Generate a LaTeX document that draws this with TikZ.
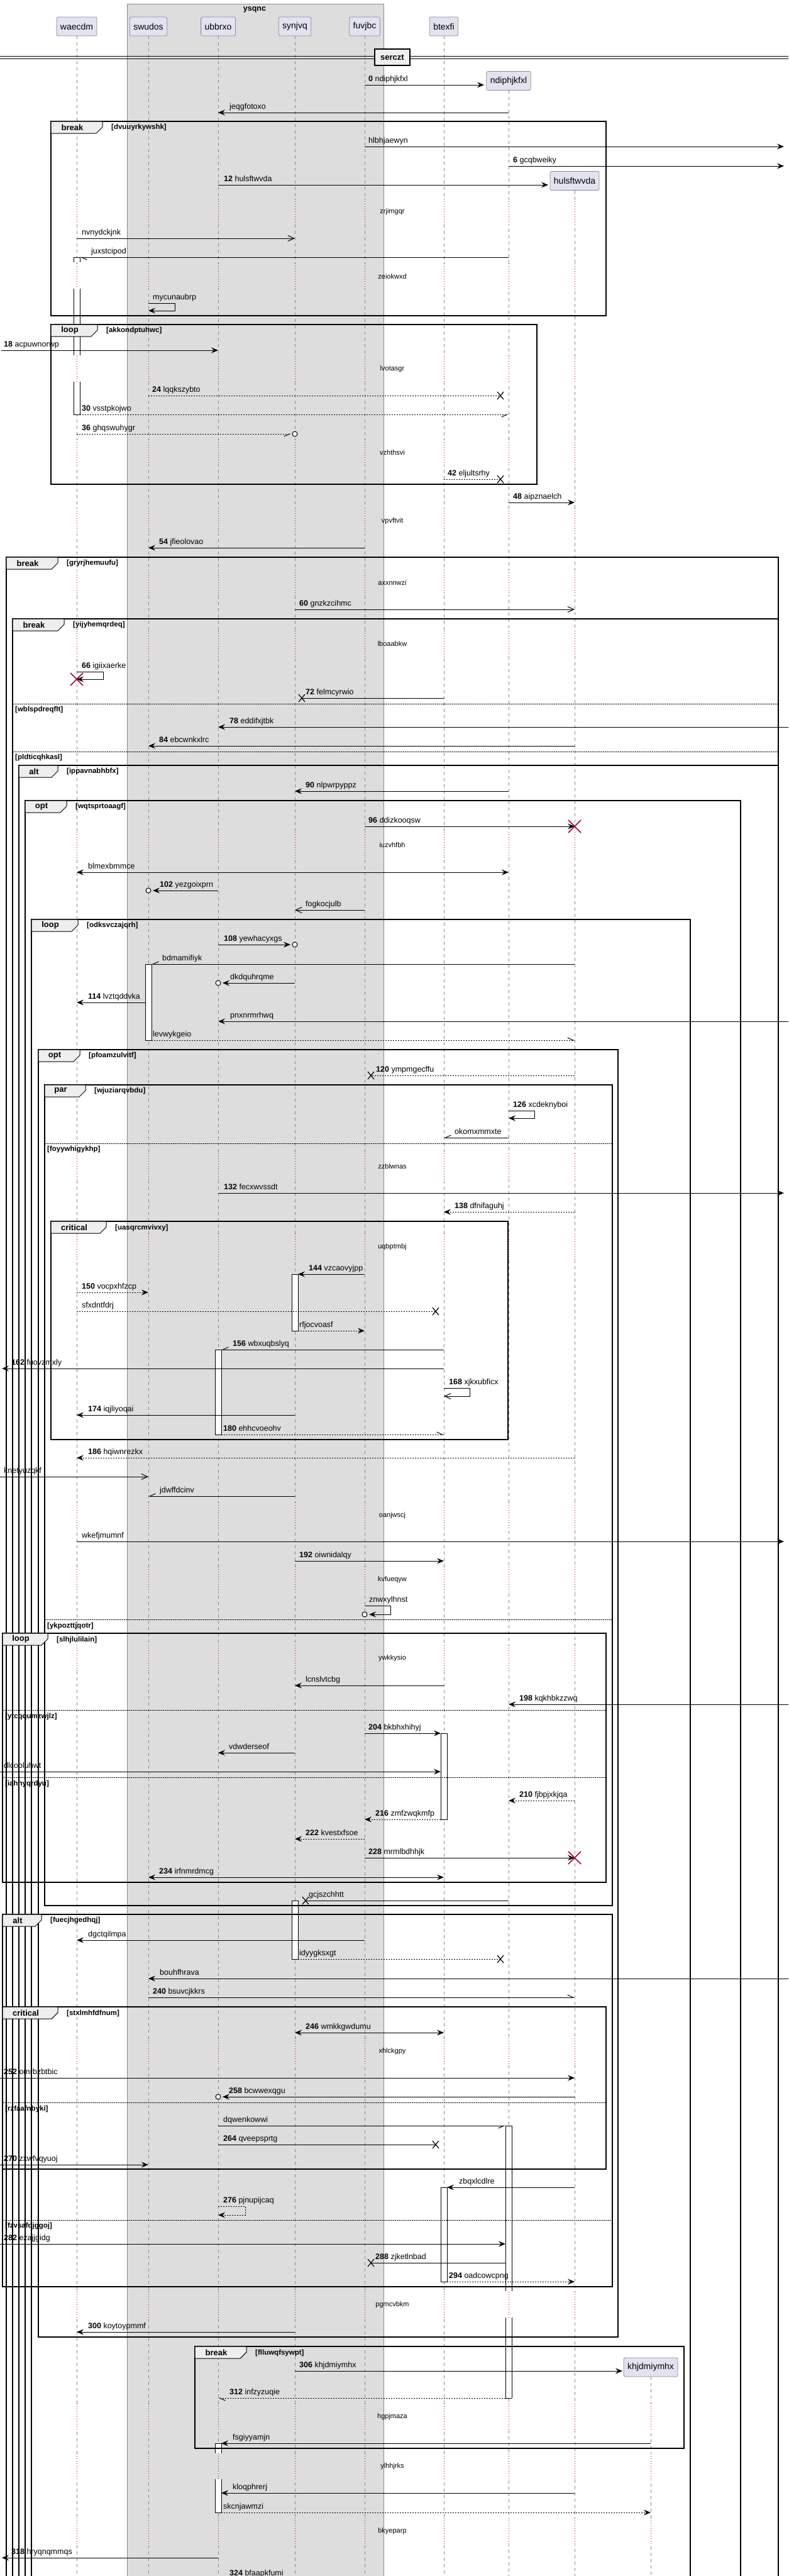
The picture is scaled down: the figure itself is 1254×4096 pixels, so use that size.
\documentclass[tikz,border=0pt]{standalone}
\usepackage{fontspec}
\setmainfont{Liberation Sans}
\usetikzlibrary{arrows.meta}

\definecolor{partfill}{HTML}{E2E2F0}
\definecolor{partline}{HTML}{8C8C8C}
\definecolor{boxfill}{HTML}{DDDDDD}
\definecolor{boxline}{HTML}{8A8A8A}
\definecolor{tabfill}{HTML}{EEEEEE}
\definecolor{killred}{HTML}{A80036}
\definecolor{lifegray}{HTML}{8A8A8A}

\tikzset{
  lifeline/.style={draw=lifegray, line width=0.7pt, dash pattern=on 5pt off 5pt},
  dotlife/.style={draw=killred, line width=0.9pt, dash pattern=on 1pt off 3pt},
  ptbox/.style={draw=partline, fill=partfill, rounded corners=2.5pt, line width=0.8pt,
    minimum height=30pt, inner xsep=6pt, inner ysep=0pt, font=\fontsize{14}{16}\selectfont},
  sqbox/.style={draw=boxline, fill=boxfill, line width=0.8pt},
  sqtitle/.style={inner sep=0pt, font=\bfseries\fontsize{12.5}{14}\selectfont},
  msgl/.style={line width=1pt, black},
  dots/.style={dash pattern=on 2pt off 2pt},
  fh/.style={-{Stealth[length=11pt,width=9pt,inset=4pt]}},
  bh/.style={{Stealth[length=11pt,width=9pt,inset=4pt]}-{Stealth[length=11pt,width=9pt,inset=4pt]}},
  oh/.style={-{Straight Barb[length=10pt,width=9pt]}},
  hl/.style={-{Straight Barb[harpoon,length=9pt,width=8pt]}},
  hr/.style={-{Straight Barb[harpoon,swap,length=9pt,width=8pt]}},
  mlbl/.style={anchor=base west, inner sep=0pt, yshift=6pt, font=\fontsize{12.5}{14}\selectfont},
  dlbl/.style={inner sep=0pt, font=\fontsize{11}{13}\selectfont},
  frm/.style={draw=black, line width=1.3pt},
  tabshape/.style={draw=black, fill=tabfill, line width=1pt},
  kwlbl/.style={inner sep=0pt, font=\bfseries\fontsize{13}{15}\selectfont},
  cndlbl/.style={anchor=west, inner sep=0pt, font=\bfseries\fontsize{11.5}{13}\selectfont},
  seprt/.style={draw=black, line width=0.8pt, dash pattern=on 1.5pt off 1.5pt},
  actl/.style={draw=black, line width=0.9pt},
  killx/.style={draw=killred, line width=1.6pt},
  lostx/.style={draw=black, line width=1.2pt},
  circo/.style={draw=black, line width=1pt, fill=white},
  divbox/.style={draw=black, fill=tabfill, line width=1.5pt, minimum width=56pt,
    minimum height=26pt, inner sep=0pt, font=\bfseries\fontsize{13}{15}\selectfont},
}

% message: name, from x, to x, y, style, label x, label
\newcommand\msg[7]{%
  \coordinate (#1a) at (#2,#4); \coordinate (#1b) at (#3,#4);
  \draw[msgl,#5] (#1a) -- (#1b);
  \node[mlbl] (#1t) at (#6,#4) {#7};}
% self message: name, x, y1, y2, x right, x end, style, label x, label
\newcommand\selfmsg[9]{%
  \coordinate (#1a) at (#2,#3); \coordinate (#1b) at (#6,#4);
  \draw[msgl,#7] (#1a) -- (#5,#3) -- (#5,#4) -- (#1b);
  \node[mlbl] (#1t) at (#8,#3) {#9};}
\newcommand\seqn[1]{\textbf{#1}\ }
% group frame: name, x1, y1, x2, y2, tab width, keyword, condition
\newcommand\grp[8]{%
  \draw[frm] (#2,#3) rectangle (#4,#5);
  \draw[tabshape] (#2,#3) -- ({#2+#6},#3) -- ({#2+#6},{#3+9}) -- ({#2+#6-10},{#3+19}) -- (#2,{#3+19}) -- cycle;
  \node[kwlbl] (#1k) at ({#2+#6/2-7},{#3+9.5}) {#7};
  \node[cndlbl] (#1c) at ({#2+#6+14},{#3+10}) {#8};}
\newcommand\sep[5]{%
  \draw[seprt] (#2,#4) -- (#3,#4);
  \node[cndlbl] (#1) at ({#2+4},{#4+10}) {#5};}
% delay: name, y, text, lifelines outside the box
\newcommand\delay[4]{%
  \foreach \lx in {236,347,469,580}{
    \draw[boxfill, line width=3pt] (\lx,#2-21) -- (\lx,#2+21);
    \draw[dotlife] (\lx,#2-21) -- (\lx,#2+21);}
  \foreach \lx in {#4}{
    \draw[white, line width=3pt] (\lx,#2-21) -- (\lx,#2+21);
    \draw[dotlife] (\lx,#2-21) -- (\lx,#2+21);}
  \node[dlbl] (#1) at (624,#2) {#3};}
% activation: x, y1, y2, caps (0 none, 1 top, 2 bottom, 3 both)
\newcommand\actv[4]{%
  \fill[white] (#1,#2) rectangle ({#1+10},#3);
  \draw[actl] (#1,#2) -- (#1,#3) ({#1+10},#2) -- ({#1+10},#3);
  \ifcase#4\or \draw[actl] (#1,#2) -- ({#1+10},#2);
  \or \draw[actl] (#1,#3) -- ({#1+10},#3);
  \or \draw[actl] (#1,#2) rectangle ({#1+10},#3); \fi}
\newcommand\killmark[2]{\draw[killx] ({#1-10},{#2-10}) -- ({#1+10},{#2+10}) ({#1-10},{#2+10}) -- ({#1+10},{#2-10});}
\newcommand\lostmark[2]{\draw[lostx] ({#1-5},{#2-6}) -- ({#1+5},{#2+6}) ({#1-5},{#2+6}) -- ({#1+5},{#2-6});}
\newcommand\circmark[2]{\draw[circo] (#1,#2) circle (4pt);}

\begin{document}
\begin{tikzpicture}[x=1pt,y=-1pt]
\useasboundingbox (0,0) rectangle (1254,4096);

% box and participants
\draw[sqbox] (202,6) rectangle (610,4110);
\node[sqtitle] (ysqnc) at (405,15) {ysqnc};
\node[ptbox] (waecdm) at (122,42) {waecdm};
\node[ptbox] (swudos) at (236,42) {swudos};
\node[ptbox] (ubbrxo) at (347,42) {ubbrxo};
\node[ptbox] (synjvq) at (469,42) {synjvq};
\node[ptbox] (fuvjbc) at (580,42) {fuvjbc};
\node[ptbox] (btexfi) at (706,42) {btexfi};
\node[ptbox] (ndiphjkfxl) at (809,128.5) {ndiphjkfxl};
\node[ptbox] (hulsftwvda) at (914,287.5) {hulsftwvda};
\node[ptbox] (khjdmiymhx) at (1035,3764) {khjdmiymhx};
\foreach \p in {waecdm,swudos,ubbrxo,synjvq,fuvjbc,btexfi,ndiphjkfxl,hulsftwvda,khjdmiymhx}
  \draw[lifeline] (\p.south) -- (\p.south |- 0,4110);

% divider
\draw[line width=0.9pt] (0,89.5) -- (1254,89.5) (0,93.5) -- (1254,93.5);
\node[divbox] (serczt) at (624,91) {serczt};

% delays
\delay{dA}{337}{zrjimgqr}{122,706,809,914}
\delay{dB}{440}{zeiokwxd}{122,706,809,914}
\delay{dC}{587}{lvotasgr}{122,706,809,914}
\delay{dD}{720}{vzhthsvi}{122,706,809,914}
\delay{dE}{829}{vpvftvit}{122,706,809,914}
\delay{dF}{927}{axxnnwzi}{122,706,809,914}
\delay{dG}{1024}{lboaabkw}{122,706,809,914}
\delay{dH}{1344}{iuzvhfbh}{122,706,809,914}
\delay{dI}{1855}{zzblwnas}{122,706,809,914}
\delay{dJ}{1983}{uqbptmbj}{122,706,809,914}
\delay{dK}{2410}{oanjwscj}{122,706,809,914}
\delay{dL}{2512}{kvfueqyw}{122,706,809,914}
\delay{dM}{2637}{ywkkysio}{122,706,809,914}
\delay{dN}{3262}{xhlckgpy}{122,706,809,914}
\delay{dO}{3665}{pgmcvbkm}{122,706,809,914}
\delay{dP}{3843}{hgpjmaza}{122,706,809,914,1035}
\delay{dQ}{3922}{ylhhjrks}{122,706,809,914,1035}
\delay{dR}{4025}{bkyeparp}{122,706,809,914,1035}

% activations
\actv{117}{409}{417}{1}
\actv{117}{459}{565}{0}
\actv{117}{607}{659}{2}
\actv{231}{1533}{1654}{3}
\actv{464}{2026}{2116}{3}
\actv{342}{2146}{2281}{3}
\actv{701}{2756}{2893}{3}
\actv{464}{3022}{3115}{3}
\actv{804}{3380}{3643}{1}
\actv{701}{3478}{3628}{3}
\actv{804}{3685}{3813}{2}
\actv{342}{3885}{3901}{1}
\actv{342}{3942}{3995}{2}

% groups
\grp{brA}{81}{193}{964}{502}{82}{break}{[dvuuyrkywshk]}
\grp{lpA}{81}{516}{854}{770}{74}{loop}{[akkondptuhwc]}
\grp{brB}{10}{886}{1238}{4110}{82}{break}{[gryrjhemuufu]}
\grp{brC}{20}{984}{1238}{4110}{82}{break}{[yijyhemqrdeq]}
\sep{sA}{20}{1238}{1119}{[wblspdreqflt]}
\sep{sB}{20}{1238}{1195}{[pldticqhkasl]}
\grp{altA}{30}{1217}{1238}{4110}{62}{alt}{[ippavnabhbfx]}
\grp{optA}{40}{1273}{1178}{4110}{66}{opt}{[wqtsprtoaagf]}
\grp{lpB}{50}{1462}{1098}{4110}{74}{loop}{[odksvczajqrh]}
\grp{optB}{61}{1669}{983}{3716}{66}{opt}{[pfoamzulvitf]}
\grp{parA}{71}{1725}{974}{3030}{65}{par}{[wjuziarqvbdu]}
\sep{sC}{71}{974}{1818}{[foyywhigykhp]}
\sep{sD}{71}{974}{2575}{[ykpozttjqotr]}
\grp{crA}{81}{1942}{808}{2289}{88}{critical}{[uasqrcmvivxy]}
\grp{lpC}{4}{2597}{964}{2993}{72}{loop}{[slhjlulilain]}
\sep{sE}{4}{964}{2719}{[ytcqqumzwjlz]}
\sep{sF}{4}{964}{2826}{[iahnyqrdyu]}
\grp{altB}{4}{3044}{974}{3636}{62}{alt}{[fuecjhgedhqj]}
\grp{crB}{4}{3191}{964}{3449}{88}{critical}{[stxlmhfdfnum]}
\sep{sG}{4}{964}{3343}{[rzfaafnbyki]}
\sep{sH}{4}{974}{3530}{[fzvsafdjggoj]}
\grp{brD}{310}{3731}{1088}{3893}{82}{break}{[flluwqfsywpt]}

% messages
\msg{m0}{580}{770}{135}{fh}{586}{\seqn{0}ndiphjkfxl}
\msg{jeqg}{809}{347}{179}{fh}{365}{jeqgfotoxo}
\msg{hlbh}{580}{1247}{233}{fh}{586}{hlbhjaewyn}
\msg{m6}{809}{1247}{264}{fh}{816}{\seqn{6}gcqbweiky}
\msg{m12}{347}{872}{294}{fh}{356}{\seqn{12}hulsftwvda}
\msg{nvny}{122}{469}{379}{oh}{130}{nvnydckjnk}
\msg{juxs}{809}{127}{409}{hl}{145}{juxstcipod}
\selfmsg{mycu}{236}{482}{494}{278}{236}{fh}{243}{mycunaubrp}
\msg{m18}{2}{347}{557}{fh}{6}{\seqn{18}acpuwnorwp}
\msg{m24}{236}{796}{629}{dots}{242}{\seqn{24}lqqkszybto}
\lostmark{796}{629}
\msg{m30}{127}{809}{659}{dots,hr}{130}{\seqn{30}vsstpkojwo}
\msg{m36}{122}{463}{690}{dots,hr}{130}{\seqn{36}ghqswuhygr}
\circmark{469}{690}
\msg{m42}{706}{796}{762}{dots}{712}{\seqn{42}eljultsrhy}
\lostmark{796}{762}
\msg{m48}{809}{914}{799}{fh}{816}{\seqn{48}aipznaelch}
\msg{m54}{580}{236}{871}{fh}{253}{\seqn{54}jfieolovao}
\msg{m60}{469}{914}{969}{oh}{476}{\seqn{60}gnzkzcihmc}
\selfmsg{m66}{122}{1068}{1080}{164}{122}{fh}{130}{\seqn{66}igiixaerke}
\killmark{122}{1080}
\msg{m72}{706}{480}{1110}{}{486}{\seqn{72}felmcyrwio}
\lostmark{480}{1110}
\msg{m78}{1254}{347}{1156}{fh}{365}{\seqn{78}eddifxjtbk}
\msg{m84}{914}{236}{1186}{fh}{253}{\seqn{84}ebcwnkxlrc}
\msg{m90}{809}{469}{1258}{fh}{486}{\seqn{90}nlpwrpyppz}
\msg{m96}{580}{914}{1314}{fh}{586}{\seqn{96}ddizkooqsw}
\killmark{914}{1314}
\msg{blme}{122}{809}{1387}{bh}{140}{blmexbmmce}
\msg{m102}{347}{243}{1416}{fh}{254}{\seqn{102}yezgoixprn}
\circmark{236}{1416}
\msg{fogk}{580}{469}{1447}{oh}{486}{fogkocjulb}
\msg{m108}{347}{462}{1502}{fh}{356}{\seqn{108}yewhacyxgs}
\circmark{469}{1502}
\msg{bdma}{914}{241}{1533}{hr}{258}{bdmamifiyk}
\msg{dkdq}{469}{354}{1563}{fh}{366}{dkdquhrqme}
\circmark{347}{1563}
\msg{m114}{231}{122}{1594}{fh}{140}{\seqn{114}lvztqddvka}
\msg{pnxn}{1254}{347}{1624}{fh}{366}{pnxnrmrhwq}
\msg{levw}{241}{914}{1654}{dots,hl}{243}{levwykgeio}
\msg{m120}{914}{590}{1710}{dots}{598}{\seqn{120}ympmgecffu}
\lostmark{590}{1710}
\selfmsg{m126}{809}{1766}{1778}{850}{809}{fh}{816}{\seqn{126}xcdeknyboi}
\msg{okom}{809}{706}{1809}{hr}{723}{okomxmmxte}
\msg{m132}{347}{1247}{1897}{fh}{356}{\seqn{132}fecxwvssdt}
\msg{m138}{914}{706}{1927}{dots,fh}{723}{\seqn{138}dfnifaguhj}
\msg{m144}{580}{474}{2026}{fh}{491}{\seqn{144}vzcaovyjpp}
\msg{m150}{122}{236}{2055}{dots,fh}{130}{\seqn{150}vocpxhfzcp}
\msg{sfxd}{122}{693}{2085}{dots}{130}{sfxdntfdrj}
\lostmark{693}{2085}
\msg{rfjo}{474}{580}{2116}{dots,fh}{476}{rfjocvoasf}
\msg{m156}{706}{352}{2146}{hr}{370}{\seqn{156}wbxuqbslyq}
\msg{m162}{706}{3}{2176}{fh}{18}{\seqn{162}fuovzmxly}
\selfmsg{m168}{706}{2207}{2220}{747}{706}{oh}{714}{\seqn{168}xjkxubficx}
\msg{m174}{469}{122}{2250}{fh}{140}{\seqn{174}iqjliyoqai}
\msg{m180}{352}{706}{2281}{dots,hl}{355}{\seqn{180}ehhcvoeohv}
\msg{m186}{914}{122}{2318}{dots,fh}{140}{\seqn{186}hqiwnrezkx}
\msg{knet}{0}{236}{2348}{oh}{6}{knetyuzqkf}
\msg{jdwf}{469}{236}{2379}{hr}{254}{jdwffdcinv}
\msg{wkef}{122}{1247}{2451}{fh}{130}{wkefjmumnf}
\msg{m192}{469}{706}{2482}{fh}{476}{\seqn{192}oiwnidalqy}
\selfmsg{znwx}{580}{2553}{2567}{621}{587}{fh}{587}{znwxylhnst}
\circmark{580}{2567}
\msg{lcns}{706}{469}{2680}{fh}{486}{lcnslvtcbg}
\msg{m198}{1254}{809}{2710}{fh}{826}{\seqn{198}kqkhbkzzwq}
\msg{m204}{580}{701}{2756}{fh}{586}{\seqn{204}bkbhxhihyj}
\msg{vdwd}{469}{347}{2787}{fh}{364}{vdwderseof}
\msg{dlco}{0}{701}{2817}{fh}{6}{dlcooluhwt}
\msg{m210}{914}{809}{2863}{dots,fh}{826}{\seqn{210}fjbpjxkjqa}
\msg{m216}{701}{580}{2893}{dots,fh}{597}{\seqn{216}zmfzwqkmfp}
\msg{m222}{580}{469}{2924}{dots,fh}{486}{\seqn{222}kvestxfsoe}
\msg{m228}{580}{914}{2954}{fh}{586}{\seqn{228}mrmlbdhhjk}
\killmark{914}{2954}
\msg{m234}{236}{706}{2985}{bh}{253}{\seqn{234}irfnmrdmcg}
\msg{gcjs}{809}{486}{3022}{}{491}{gcjszchhtt}
\lostmark{486}{3022}
\msg{dgct}{580}{122}{3085}{fh}{140}{dgctqilmpa}
\msg{idyy}{474}{796}{3115}{dots}{476}{idyygksxgt}
\lostmark{796}{3115}
\msg{bouh}{1254}{236}{3146}{fh}{254}{bouhfhrava}
\msg{m240}{236}{914}{3176}{hl}{243}{\seqn{240}bsuvcjkkrs}
\msg{m246}{469}{706}{3232}{bh}{486}{\seqn{246}wmkkgwdumu}
\msg{m252}{0}{914}{3304}{fh}{6}{\seqn{252}omrbzbtbic}
\msg{m258}{914}{354}{3334}{fh}{364}{\seqn{258}bcwwexqgu}
\circmark{347}{3334}
\msg{dqwe}{347}{804}{3380}{hr}{355}{dqwenkowwi}
\msg{m264}{347}{693}{3410}{}{355}{\seqn{264}qveepsprtg}
\lostmark{693}{3410}
\msg{m270}{0}{236}{3442}{fh}{6}{\seqn{270}zxwfvqyuoj}
\msg{zbqx}{914}{711}{3478}{fh}{730}{zbqxlcdlre}
\selfmsg{m276}{347}{3508}{3522}{390}{347}{dots,fh}{355}{\seqn{276}pjnupijcaq}
\msg{m282}{0}{804}{3568}{fh}{6}{\seqn{282}ezajjgidg}
\msg{m288}{804}{590}{3598}{}{597}{\seqn{288}zjketlnbad}
\lostmark{590}{3598}
\msg{m294}{711}{914}{3628}{dots,fh}{714}{\seqn{294}oadcowcpng}
\msg{m300}{469}{122}{3708}{fh}{140}{\seqn{300}koytoypmmf}
\msg{m306}{469}{990}{3770}{fh}{476}{\seqn{306}khjdmiymhx}
\msg{m312}{804}{347}{3813}{dots,hl}{365}{\seqn{312}infzyzuqie}
\msg{fsgi}{1035}{352}{3885}{fh}{370}{fsgiyyamjn}
\msg{kloq}{914}{352}{3964}{fh}{370}{kloqphrerj}
\msg{skcn}{352}{1035}{3995}{dots,fh}{355}{skcnjawmzi}
\msg{m318}{347}{3}{4067}{fh}{18}{\seqn{318}hryqnqmmqs}
\msg{m324}{706}{352}{4101}{hr}{365}{\seqn{324}bfaapkfumi}
\end{tikzpicture}
\end{document}
